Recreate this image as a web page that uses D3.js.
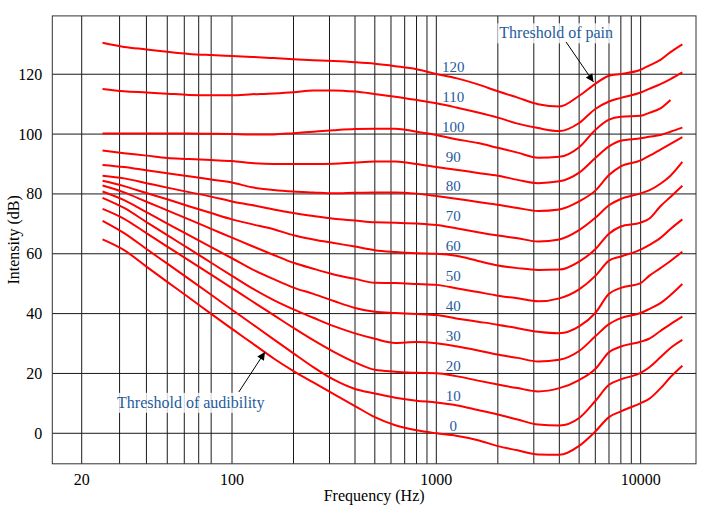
<!DOCTYPE html>
<html>
<head>
<meta charset="utf-8">
<script src="https://cdn.jsdelivr.net/npm/d3@7.9.0/dist/d3.min.js"></script>
<style>
  body { margin: 0; background: #fff; }
  svg { display: block; font-family: "Liberation Serif", "DejaVu Serif", serif; }
</style>
</head>
<body>
<svg id="chart" width="714" height="511"></svg>
<script>
const freqs = [25, 31.5, 40, 50, 63, 80, 100, 125, 160, 200, 250, 315, 400, 500, 630, 800,
  1000, 1250, 1600, 2000, 2500, 3150, 4000, 5000, 6000, 7000, 8000, 10000, 11000, 12500, 14000, 16000];

// intensity (dB) of each equal-loudness contour at those frequencies
const phon120 = [130.5, 129.1, 128.3, 127.5, 126.8, 126.4, 126.1, 125.8, 125.4, 125.0, 124.7, 124.4, 124.0, 123.5, 122.7, 121.7, 120.1, 118.7, 116.6, 114.3, 112.2, 110.0, 109.2, 112.8, 116.8, 119.5, 120.1, 121.5, 122.9, 124.8, 127.4, 130.0];
const phon110 = [115.1, 114.3, 113.9, 113.5, 113.1, 113.0, 113.0, 113.3, 113.6, 114.0, 114.6, 114.6, 114.2, 113.4, 112.5, 111.4, 110.3, 108.9, 107.2, 105.5, 103.5, 102.0, 101.0, 103.7, 108.4, 110.9, 112.1, 113.9, 115.1, 116.7, 118.4, 120.6];
const phon100 = [100.2, 100.2, 100.2, 100.2, 100.2, 100.1, 100.0, 99.9, 99.9, 100.3, 100.8, 101.3, 101.7, 101.8, 101.8, 100.8, 99.7, 98.3, 97.0, 95.4, 93.8, 92.1, 92.4, 95.6, 101.4, 104.8, 105.8, 106.1, 107.1, 108.6, 111.4, null];
const phon90 = [94.5, 93.6, 92.8, 92.0, 91.7, 91.3, 91.0, 90.3, 90.0, 90.0, 90.0, 90.1, 90.5, 90.8, 90.8, 90.0, 89.0, 88.1, 87.0, 86.1, 84.7, 83.6, 84.2, 87.1, 92.0, 95.9, 97.8, 98.6, 99.1, 99.7, 100.8, 102.2];
const phon80 = [89.7, 89.0, 87.9, 86.9, 85.9, 84.8, 83.8, 82.2, 81.3, 80.8, 80.5, 80.2, 80.4, 80.5, 80.5, 80.1, 79.3, 78.4, 77.3, 76.4, 75.3, 74.3, 74.8, 77.5, 81.1, 86.3, 89.2, 91.2, 92.7, 94.8, 96.7, 99.0];
const phon70 = [86.1, 85.2, 83.6, 82.1, 80.6, 79.1, 77.5, 76.3, 74.8, 73.6, 72.6, 71.7, 71.1, 70.5, 70.4, 70.1, 69.6, 68.5, 67.2, 66.1, 65.2, 64.1, 64.8, 67.9, 72.0, 76.2, 78.3, 80.2, 81.2, 83.4, 86.1, 90.7];
const phon60 = [84.4, 82.6, 80.3, 78.2, 75.9, 73.6, 71.5, 69.9, 68.2, 66.2, 64.8, 63.6, 62.4, 61.2, 60.6, 60.2, 60.0, 59.3, 57.6, 56.1, 55.2, 54.6, 54.7, 57.4, 61.5, 66.7, 69.1, 70.4, 71.7, 75.9, 79.0, 82.7];
const phon50 = [82.8, 80.5, 77.4, 74.5, 71.5, 68.3, 65.4, 62.6, 59.6, 57.0, 55.0, 53.1, 51.6, 50.3, 50.2, 49.9, 49.6, 48.5, 47.2, 46.0, 45.1, 44.1, 45.1, 48.1, 52.6, 57.7, 59.1, 61.4, 62.9, 65.3, 68.3, 71.5];
const phon40 = [80.8, 77.9, 73.9, 70.1, 66.2, 62.2, 58.5, 54.9, 51.5, 48.7, 46.6, 44.2, 41.9, 40.6, 40.2, 39.9, 39.5, 38.4, 37.3, 36.3, 35.1, 33.9, 33.4, 35.7, 40.2, 46.6, 48.6, 50.2, 52.6, 55.2, 57.6, 60.7];
const phon30 = [78.7, 75.3, 70.6, 66.2, 61.7, 57.0, 52.6, 48.5, 44.5, 41.4, 38.6, 35.8, 33.4, 31.6, 30.2, 30.5, 30.1, 29.1, 27.7, 26.3, 25.2, 24.0, 24.6, 27.5, 32.4, 36.5, 38.5, 40.2, 41.5, 43.5, 46.2, 49.9];
const phon20 = [75.0, 71.7, 66.9, 62.4, 57.8, 53.0, 48.5, 44.2, 39.5, 35.2, 31.1, 27.2, 23.7, 21.2, 20.6, 20.2, 20.1, 19.1, 17.6, 16.3, 15.1, 14.0, 15.1, 17.8, 21.5, 27.1, 29.0, 30.6, 31.6, 34.2, 36.5, 39.0];
const phon10 = [71.0, 66.9, 61.6, 56.7, 51.6, 46.3, 41.3, 36.6, 31.4, 26.7, 22.1, 17.9, 14.8, 13.3, 11.9, 10.9, 10.3, 9.4, 7.8, 6.3, 4.6, 2.9, 2.6, 5.1, 10.8, 16.2, 18.0, 20.2, 22.0, 25.4, 28.5, 31.2];
const phon0 = [64.8, 61.2, 55.7, 50.6, 45.4, 39.9, 34.9, 30.2, 25.0, 20.8, 17.0, 13.1, 9.1, 5.4, 2.7, 1.0, 0.0, -0.8, -2.3, -4.3, -5.7, -7.1, -7.2, -4.2, 0.6, 5.4, 7.3, 10.1, 11.5, 15.0, 18.8, 22.6];

const phonLabels = ['120', '110', '100', '90', '80', '70', '60', '50', '40', '30', '20', '10', '0'];
const phonLevels = [120, 110, 100, 90, 80, 70, 60, 50, 40, 30, 20, 10, 0];
const contours = [phon120, phon110, phon100, phon90, phon80, phon70, phon60, phon50, phon40, phon30, phon20, phon10, phon0];

// grid and ticks
const xGridFreqs = [20, 30, 40, 50, 60, 70, 80, 100, 200, 300, 400, 500, 600, 700, 800, 900,
  1000, 2000, 3000, 4000, 5000, 6000, 7000, 8000, 9000, 10000];
const xTickLabels = [20, 100, 1000, 10000];
const yTicks = [0, 20, 40, 60, 80, 100, 120];

// annotations: [text, text freq, text dB, arrow tail freq, tail dB, arrow tip freq, tip dB]
const notes = [
  ['Threshold of pain', 2034, 132.0, 4313, 130.8, 5880, 117.4],
  ['Threshold of audibility', 29.2, 8.5, 108, 13.8, 145, 27.2]
];

const svg = d3.select('#chart');

const x = d3.scaleLog()
  .domain([14.6, 20, 100, 18660])
  .range([52.3, 81.7, 232, 696]);
const y = d3.scaleLinear()
  .domain([-10.2, 139.5])
  .range([463.8, 15.9]);

const [x0, x1] = [x.range()[0], x.range()[3]];
const [y0, y1] = y.range();

// grid
const grid = svg.append('g').attr('stroke', '#1a1a1a').attr('stroke-width', 1);
grid.selectAll('.vx').data(xGridFreqs).join('line')
  .attr('x1', d => x(d)).attr('x2', d => x(d))
  .attr('y1', y1).attr('y2', y0);
grid.selectAll('.hy').data(yTicks).join('line')
  .attr('x1', x0).attr('x2', x1)
  .attr('y1', d => y(d)).attr('y2', d => y(d));

svg.append('rect')
  .attr('x', x0).attr('y', y1)
  .attr('width', x1 - x0).attr('height', y0 - y1)
  .attr('fill', 'none').attr('stroke', '#333').attr('stroke-width', 1);

// annotation backgrounds and text
const noteG = svg.append('g');
notes.forEach(n => {
  const t = noteG.append('text')
    .attr('x', x(n[1])).attr('y', y(n[2]))
    .attr('font-size', 16).attr('fill', '#1f5c9c')
    .text(n[0]);
  const b = t.node().getBBox();
  noteG.insert('rect', 'text')
    .attr('x', b.x - 2).attr('y', b.y - 1)
    .attr('width', b.width + 4).attr('height', b.height + 2)
    .attr('fill', '#fff').attr('opacity', 0.8);
});

// contours
const line = d3.line()
  .defined(d => d != null)
  .x((d, i) => x(freqs[i]))
  .y(d => y(d))
  .curve(d3.curveMonotoneX);

svg.append('g').selectAll('path').data(contours).join('path')
  .attr('d', line)
  .attr('fill', 'none')
  .attr('stroke', '#ff0000')
  .attr('stroke-width', 2);

// contour labels near 1 kHz
svg.append('g').selectAll('text').data(phonLevels).join('text')
  .attr('x', x(1000) + 17)
  .attr('y', d => y(d) - 2.5)
  .attr('text-anchor', 'middle')
  .attr('font-size', 15)
  .attr('fill', '#1f5c9c')
  .text((d, i) => phonLabels[i]);

// arrows
svg.append('defs').append('marker')
  .attr('id', 'head')
  .attr('viewBox', '0 0 10 10')
  .attr('refX', 10).attr('refY', 5)
  .attr('markerWidth', 10).attr('markerHeight', 8)
  .attr('markerUnits', 'userSpaceOnUse')
  .attr('orient', 'auto')
  .append('path').attr('d', 'M0,0 L10,5 L0,10 Z').attr('fill', '#000');

svg.append('g').selectAll('line').data(notes).join('line')
  .attr('x1', d => x(d[3])).attr('y1', d => y(d[4]))
  .attr('x2', d => x(d[5])).attr('y2', d => y(d[6]))
  .attr('stroke', '#000').attr('stroke-width', 1)
  .attr('marker-end', 'url(#head)');

// axes labels
svg.append('g').selectAll('text').data(xTickLabels).join('text')
  .attr('x', d => x(d)).attr('y', y0 + 21)
  .attr('text-anchor', 'middle').attr('font-size', 16).attr('fill', '#000')
  .text(d => d);

svg.append('g').selectAll('text').data(yTicks).join('text')
  .attr('x', x0 - 10).attr('y', d => y(d) + 5.5)
  .attr('text-anchor', 'end').attr('font-size', 16).attr('fill', '#000')
  .text(d => d);

svg.append('text')
  .attr('x', (x0 + x1) / 2).attr('y', 501)
  .attr('text-anchor', 'middle').attr('font-size', 16)
  .text('Frequency (Hz)');

svg.append('text')
  .attr('transform', `translate(19,${(y0 + y1) / 2}) rotate(-90)`)
  .attr('text-anchor', 'middle').attr('font-size', 16)
  .text('Intensity (dB)');
</script>
</body>
</html>
